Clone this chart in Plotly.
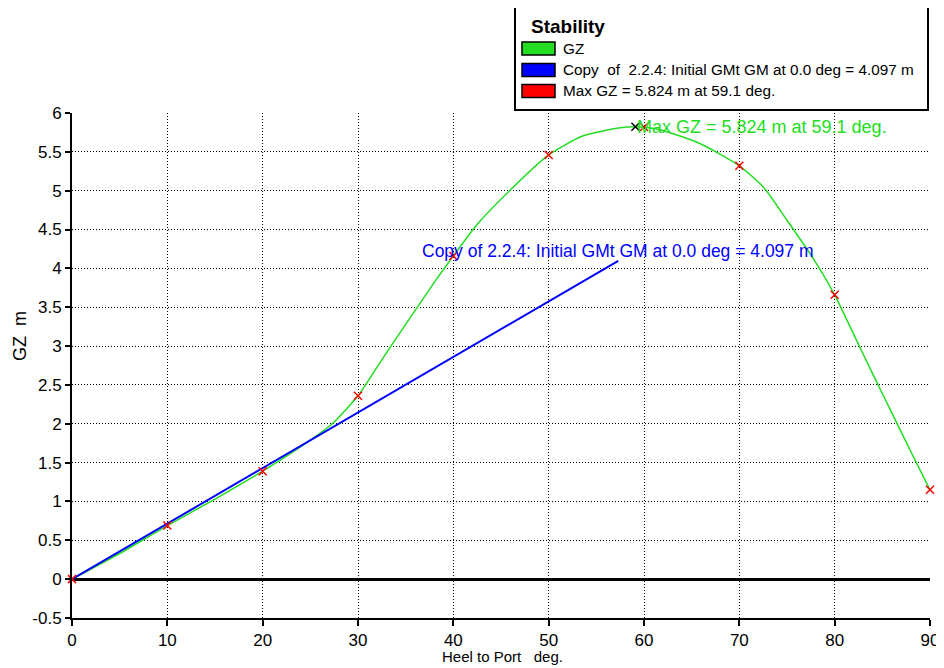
import plotly.graph_objects as go

# ---- data ----
heel_marks = [0, 10, 20, 30, 40, 50, 60, 70, 80, 90]
gz_marks = [0.0, 0.69, 1.39, 2.36, 4.16, 5.46, 5.82, 5.32, 3.66, 1.15]

heel_curve = [0, 5, 10, 15, 20, 25, 27.3, 30, 32, 34, 36, 38, 40, 42.6, 45.9,
              50, 53.5, 57.5, 59.1, 61.5, 65.8, 70, 72.5, 75, 77.8, 80, 82, 84,
              86, 88, 90]
gz_curve = [0.0, 0.33, 0.69, 1.03, 1.39, 1.79, 2.00, 2.36, 2.73, 3.10, 3.46, 3.82, 4.16,
            4.58, 5.00, 5.46, 5.70, 5.81, 5.824, 5.79, 5.61, 5.32, 5.05, 4.62, 4.12,
            3.66, 3.15, 2.64, 2.14, 1.64, 1.15]

gm_heel = [0, 57.3]
gm_gz = [0, 4.097]

max_heel = [59.1]
max_gz = [5.824]

x_ticks = [0, 10, 20, 30, 40, 50, 60, 70, 80, 90]
y_ticks = [-0.5, 0, 0.5, 1, 1.5, 2, 2.5, 3, 3.5, 4, 4.5, 5, 5.5, 6]

legend_title = "Stability"
legend_labels = ["GZ", "Copy  of  2.2.4: Initial GMt GM at 0.0 deg = 4.097 m",
                 "Max GZ = 5.824 m at 59.1 deg."]
gm_label = "Copy of 2.2.4: Initial GMt GM at 0.0 deg = 4.097 m"
max_label = "Max GZ = 5.824 m at 59.1 deg."

GREEN = "#22dd22"
BLUE = "#0000ff"
RED = "#ff0000"
FONT = "Liberation Sans, Arial, sans-serif"

# the page places the figure 8px in from the top-left corner of the window
OFF = 8
W, H = 944 - OFF, 668 - OFF
ML, MR, MT, MB = 72 - OFF, 14, 113 - OFF, 50
PW, PH = W - ML - MR, H - MT - MB


def px(x):
    return (x - OFF - ML) / PW


def py(y):
    return (H - MB - (y - OFF)) / PH


fig = go.Figure()

fig.add_trace(go.Scatter(x=heel_curve, y=gz_curve, mode="lines",
                         line=dict(color=GREEN, width=1.5, shape="spline", smoothing=0.6),
                         showlegend=False, hoverinfo="skip"))
fig.add_trace(go.Scatter(x=gm_heel, y=gm_gz, mode="lines",
                         line=dict(color=BLUE, width=2), showlegend=False))
fig.add_trace(go.Scatter(x=heel_marks, y=gz_marks, mode="markers",
                         marker=dict(symbol="x-thin", size=8, color=RED,
                                     line=dict(color=RED, width=1.5)),
                         showlegend=False, cliponaxis=False))
fig.add_trace(go.Scatter(x=max_heel, y=max_gz, mode="markers",
                         marker=dict(symbol="x-thin", size=8, color="black",
                                     line=dict(color="black", width=1.5)),
                         showlegend=False))

annotations = [
    dict(x=max_heel[0], y=max_gz[0], xref="x", yref="y", text=max_label,
         showarrow=False, xanchor="left", yanchor="middle",
         font=dict(family=FONT, size=18, color=GREEN)),
    dict(x=gm_heel[1], y=gm_gz[1], xref="x", yref="y", text=gm_label,
         showarrow=False, xanchor="center", yanchor="bottom", yshift=-2,
         font=dict(family=FONT, size=17.5, color=BLUE)),
    dict(x=px(20), y=py(336), xref="paper", yref="paper", text="GZ\u00a0\u00a0m",
         showarrow=False, textangle=-90, xanchor="center", yanchor="middle",
         font=dict(family=FONT, size=18, color="black")),
    dict(x=px(502), y=py(656), xref="paper", yref="paper",
         text="Heel to Port\u00a0\u00a0\u00a0deg.", showarrow=False,
         xanchor="center", yanchor="middle",
         font=dict(family=FONT, size=15, color="black")),
    dict(x=px(529), y=py(26), xref="paper", yref="paper",
         text="<b>" + legend_title + "</b>", showarrow=False,
         xanchor="left", yanchor="middle",
         font=dict(family=FONT, size=19, color="black")),
]

shapes = [
    dict(type="rect", xref="paper", yref="paper", x0=px(515), x1=px(928),
         y0=py(110), y1=py(7), line=dict(color="black", width=2),
         fillcolor="white", layer="above"),
]

patch_colors = [GREEN, BLUE, RED]
patch_rows = [48.5, 70, 91]
for lab, col, yc in zip(legend_labels, patch_colors, patch_rows):
    shapes.append(dict(type="rect", xref="paper", yref="paper",
                       x0=px(522), x1=px(555), y0=py(yc + 6.5), y1=py(yc - 6.5),
                       line=dict(color="black", width=1.5), fillcolor=col,
                       layer="above"))
    annotations.append(dict(x=px(561), y=py(yc), xref="paper", yref="paper",
                            text=lab.replace("  ", "\u00a0\u00a0"), showarrow=False,
                            xanchor="left", yanchor="middle",
                            font=dict(family=FONT, size=15.3, color="black")))

fig.update_layout(
    width=W, height=H,
    margin=dict(l=ML, r=MR, t=MT, b=MB, pad=0, autoexpand=False),
    paper_bgcolor="white", plot_bgcolor="white",
    showlegend=False,
    annotations=annotations,
    shapes=shapes,
    font=dict(family=FONT, color="black"),
)

fig.update_xaxes(
    range=[0, 90], tickvals=x_ticks, ticktext=[str(v) for v in x_ticks],
    automargin=False,
    showgrid=True, gridcolor="black", gridwidth=1, griddash="1px,2px",
    showline=True, linecolor="black", linewidth=2,
    ticks="outside", ticklen=6, tickwidth=1.5, tickcolor="black",
    tickfont=dict(family=FONT, size=17, color="black"),
    zeroline=False,
)
fig.update_yaxes(
    range=[-0.5, 6], tickvals=y_ticks, ticktext=[f"{v:g}" for v in y_ticks],
    automargin=False,
    showgrid=True, gridcolor="black", gridwidth=1, griddash="1px,2px",
    showline=True, linecolor="black", linewidth=2,
    ticks="outside", ticklen=5, tickwidth=1.5, tickcolor="black",
    tickfont=dict(family=FONT, size=17, color="black"),
    zeroline=True, zerolinecolor="black", zerolinewidth=2.5,
)

fig.write_html("out.html")
